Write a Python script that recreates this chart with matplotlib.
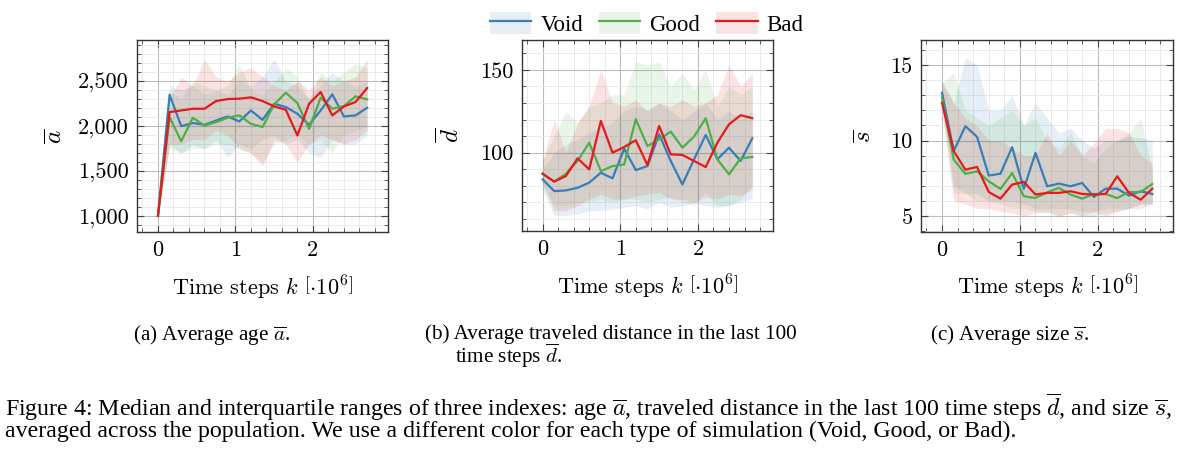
import matplotlib
matplotlib.use("Agg")
import matplotlib.pyplot as plt
from matplotlib.lines import Line2D
from matplotlib.patches import Patch
from matplotlib.ticker import MultipleLocator, FuncFormatter

plt.rcParams["mathtext.fontset"] = "cm"

# time steps (x 10^6)
steps = [0, 0.15, 0.3, 0.45, 0.6, 0.75, 0.9, 1.05, 1.2, 1.35, 1.5,
         1.65, 1.8, 1.95, 2.1, 2.25, 2.4, 2.55, 2.7]

series = ["Void", "Good", "Bad"]
colors = {"Void": "#377eb8", "Good": "#4daf4a", "Bad": "#e41a1c"}

# (a) average age: median, lower and upper quartile
age_med = {
    "Void": [1000, 2350, 2000, 2035, 2015, 2063, 2108, 2052, 2175, 2070,
             2250, 2213, 2138, 2015, 2175, 2355, 2108, 2120, 2205],
    "Good": [1000, 2100, 1832, 2093, 2007, 2045, 2093, 2120, 2026, 1990,
             2243, 2373, 2257, 1970, 2317, 2194, 2224, 2332, 2299],
    "Bad": [1000, 2157, 2175, 2194, 2194, 2280, 2302, 2306, 2321, 2280,
            2220, 2183, 1896, 2250, 2380, 2120, 2220, 2269, 2425],
}
age_lo = {
    "Void": [1000, 1800, 1700, 1800, 1750, 1850, 1650, 1800, 1750, 1850,
             1900, 1800, 1850, 1700, 1650, 1850, 1800, 1800, 1900],
    "Good": [1000, 1750, 1700, 1750, 1750, 1800, 1800, 1750, 1700, 1600,
             1800, 1850, 1900, 1800, 1850, 1700, 1900, 1950, 2000],
    "Bad": [1000, 1800, 1800, 1850, 1850, 1950, 1900, 1750, 1700, 1550,
            1850, 1800, 1600, 1800, 1900, 1850, 1800, 1850, 1950],
}
age_hi = {
    "Void": [1000, 2450, 2400, 2450, 2350, 2400, 2350, 2500, 2450, 2550,
             2750, 2500, 2450, 2300, 2450, 2600, 2500, 2450, 2500],
    "Good": [1000, 2400, 2300, 2500, 2450, 2400, 2450, 2700, 2400, 2350,
             2500, 2650, 2550, 2300, 2600, 2500, 2600, 2700, 2650],
    "Bad": [1000, 2300, 2550, 2450, 2750, 2550, 2500, 2600, 2650, 2550,
            2450, 2400, 2500, 2400, 2550, 2450, 2500, 2550, 2750],
}

# (b) average traveled distance in the last 100 time steps
dist_med = {
    "Void": [83.9, 76.8, 77.2, 78.8, 81.9, 87.9, 84.5, 102.4, 89.5, 91.9,
             111.1, 95.0, 80.8, 96.0, 110.7, 96.0, 103.0, 95.0, 108.7],
    "Good": [87.3, 82.5, 87.3, 95.0, 106.0, 88.9, 91.9, 92.9, 120.2, 104.0,
             108.0, 112.7, 103.0, 109.7, 120.8, 96.0, 86.9, 96.6, 97.4],
    "Bad": [87.3, 82.5, 85.9, 96.6, 89.9, 119.2, 100.0, 103.4, 107.5, 92.5,
            116.1, 99.0, 98.6, 95.0, 91.3, 106.0, 117.1, 122.6, 120.8],
}
dist_lo = {
    "Void": [78, 62, 62, 63, 65, 65, 66, 67, 68, 66, 70, 67, 68, 70, 68,
             67, 68, 70, 72],
    "Good": [80, 68, 68, 70, 70, 72, 70, 72, 72, 70, 72, 73, 70, 68, 76,
             68, 68, 72, 80],
    "Bad": [82, 65, 65, 68, 72, 75, 72, 72, 74, 75, 76, 72, 72, 70, 73,
            72, 75, 74, 78],
}
dist_hi = {
    "Void": [90, 100, 105, 108, 112, 115, 118, 125, 128, 126, 130, 125,
             120, 125, 130, 120, 125, 120, 125],
    "Good": [95, 110, 125, 118, 128, 130, 135, 135, 155, 153, 155, 140,
             148, 138, 150, 128, 140, 135, 140],
    "Bad": [95, 120, 100, 118, 128, 150, 130, 128, 132, 125, 130, 128,
            132, 128, 130, 135, 153, 140, 148],
}

# (c) average size
size_med = {
    "Void": [13.16, 9.3, 10.95, 10.24, 7.68, 7.8, 9.56, 6.8, 9.18, 6.97,
             7.15, 6.97, 7.19, 6.26, 6.81, 6.81, 6.35, 6.64, 6.46],
    "Good": [12.83, 8.74, 7.79, 7.96, 7.3, 6.79, 7.85, 6.31, 6.19, 6.57,
             6.86, 6.42, 6.15, 6.46, 6.46, 6.19, 6.59, 6.59, 7.12],
    "Bad": [12.5, 9.3, 8.07, 8.25, 6.59, 6.15, 7.08, 7.26, 6.42, 6.53,
            6.53, 6.64, 6.46, 6.42, 6.46, 7.63, 6.53, 6.08, 6.81],
}
size_lo = {
    "Void": [12.5, 7.0, 6.5, 6.5, 6.0, 6.0, 6.0, 5.8, 5.5, 5.5, 5.5, 5.5,
             5.3, 5.3, 5.5, 5.5, 5.5, 5.8, 5.8],
    "Good": [12.0, 6.5, 6.5, 6.0, 6.0, 5.8, 5.5, 5.5, 5.3, 5.2, 5.0, 5.2,
             5.0, 5.0, 5.2, 5.3, 5.5, 5.8, 5.8],
    "Bad": [12.0, 6.0, 5.8, 5.5, 5.5, 5.3, 5.2, 5.0, 5.2, 5.3, 5.0, 5.2,
            5.0, 5.3, 5.0, 5.3, 5.5, 5.5, 5.8],
}
size_hi = {
    "Void": [14.0, 12.5, 15.5, 15.0, 12.0, 12.0, 13.0, 11.0, 12.5, 11.5,
             10.5, 10.8, 10.0, 9.5, 10.0, 10.0, 10.3, 10.2, 10.0],
    "Good": [13.8, 14.5, 12.0, 11.5, 11.0, 11.5, 12.0, 11.0, 11.5, 10.0,
             9.5, 10.5, 9.0, 8.5, 9.5, 10.0, 10.5, 11.5, 8.0],
    "Bad": [13.8, 12.5, 11.5, 11.0, 10.0, 10.0, 9.5, 9.0, 9.0, 10.5, 9.0,
            10.0, 9.0, 9.8, 10.8, 10.8, 10.5, 9.0, 8.5],
}


def style_axes(ax, ylim, ymajor, yminor, fmt):
    ax.set_xlim(-0.27, 2.97)
    ax.set_ylim(*ylim)
    ax.xaxis.set_major_locator(MultipleLocator(1))
    ax.xaxis.set_minor_locator(MultipleLocator(0.2))
    ax.yaxis.set_major_locator(MultipleLocator(ymajor))
    ax.yaxis.set_minor_locator(MultipleLocator(yminor))
    ax.xaxis.set_major_formatter(FuncFormatter(lambda v, p: "%d" % round(v)))
    ax.yaxis.set_major_formatter(FuncFormatter(fmt))
    ax.grid(which="major", color="#bdbdbd", linewidth=0.8)
    ax.grid(which="minor", color="#e8e8e8", linewidth=0.6)
    ax.set_axisbelow(True)
    ax.tick_params(which="both", direction="in", top=True, right=True,
                   color="#444444")
    ax.tick_params(which="major", length=5, labelsize=16, pad=6)
    ax.tick_params(which="minor", length=3)
    for lab in ax.get_xticklabels() + ax.get_yticklabels():
        lab.set_fontfamily("cmr10")
    for sp in ax.spines.values():
        sp.set_color("#333333")
        sp.set_linewidth(1.0)
    ax.set_xlabel(r"Time steps $k$ $\left[\cdot 10^{6}\right]$",
                  fontfamily="cmr10", fontsize=16, labelpad=10)


def draw(ax, med, lo, hi):
    for s in series:
        ax.fill_between(steps, lo[s], hi[s], color=colors[s], alpha=0.12,
                        linewidth=0)
    for s in series:
        ax.plot(steps, med[s], color=colors[s], linewidth=1.6)


def main():
    fig = plt.figure(figsize=(12, 4.58), dpi=100)
    ax_a = fig.add_axes([0.1142, 0.4934, 0.2092, 0.4192])
    ax_b = fig.add_axes([0.4347, 0.4956, 0.2097, 0.4170])
    ax_c = fig.add_axes([0.7675, 0.4941, 0.2103, 0.4186])

    draw(ax_a, age_med, age_lo, age_hi)
    draw(ax_b, dist_med, dist_lo, dist_hi)
    draw(ax_c, size_med, size_lo, size_hi)

    style_axes(ax_a, (820, 2960), 500, 100,
               lambda v, p: "{:,.0f}".format(v))
    style_axes(ax_b, (52.7, 168), 50, 10, lambda v, p: "%d" % round(v))
    style_axes(ax_c, (3.96, 16.66), 5, 1, lambda v, p: "%d" % round(v))

    ax_a.set_ylabel(r"$\overline{a}$", fontsize=18)
    ax_a.yaxis.set_label_coords(-0.28, 0.5)
    ax_b.set_ylabel(r"$\overline{d}$", fontsize=18)
    ax_b.yaxis.set_label_coords(-0.23, 0.5)
    ax_c.set_ylabel(r"$\overline{s}$", fontsize=18)
    ax_c.yaxis.set_label_coords(-0.18, 0.5)

    handles = [(Patch(facecolor=colors[s], alpha=0.12, linewidth=0),
                Line2D([], [], color=colors[s], linewidth=1.6))
               for s in series]
    fig.legend(handles, series, loc="center", bbox_to_anchor=(0.539, 0.948),
               ncol=3, frameon=False, handlelength=1.8, handleheight=1.1,
               handletextpad=0.4, columnspacing=0.7,
               prop={"family": "Liberation Serif", "size": 16.5})

    cap = {"family": "Liberation Serif", "va": "baseline"}
    fig.text(133 / 1200, 1 - 340 / 458, r"(a) Average age $\overline{a}$.",
             fontsize=15.2, **cap)
    fig.text(425 / 1200, 1 - 339 / 458,
             "(b) Average traveled distance in the last 100",
             fontsize=15.2, **cap)
    fig.text(455 / 1200, 1 - 363 / 458, r"time steps $\overline{d}$.",
             fontsize=15.2, **cap)
    fig.text(930 / 1200, 1 - 340 / 458, r"(c) Average size $\overline{s}$.",
             fontsize=15.2, **cap)
    fig.text(5 / 1200, 1 - 416 / 458,
             r"Figure 4: Median and interquartile ranges of three indexes: "
             r"age $\overline{a}$, traveled distance in the last 100 time "
             r"steps $\overline{d}$, and size $\overline{s}$,",
             fontsize=17.2, **cap)
    fig.text(5 / 1200, 1 - 437 / 458,
             "averaged across the population. We use a different color for "
             "each type of simulation (Void, Good, or Bad).",
             fontsize=17.2, **cap)

    fig.savefig("out.png", dpi=100)


if __name__ == "__main__":
    main()
